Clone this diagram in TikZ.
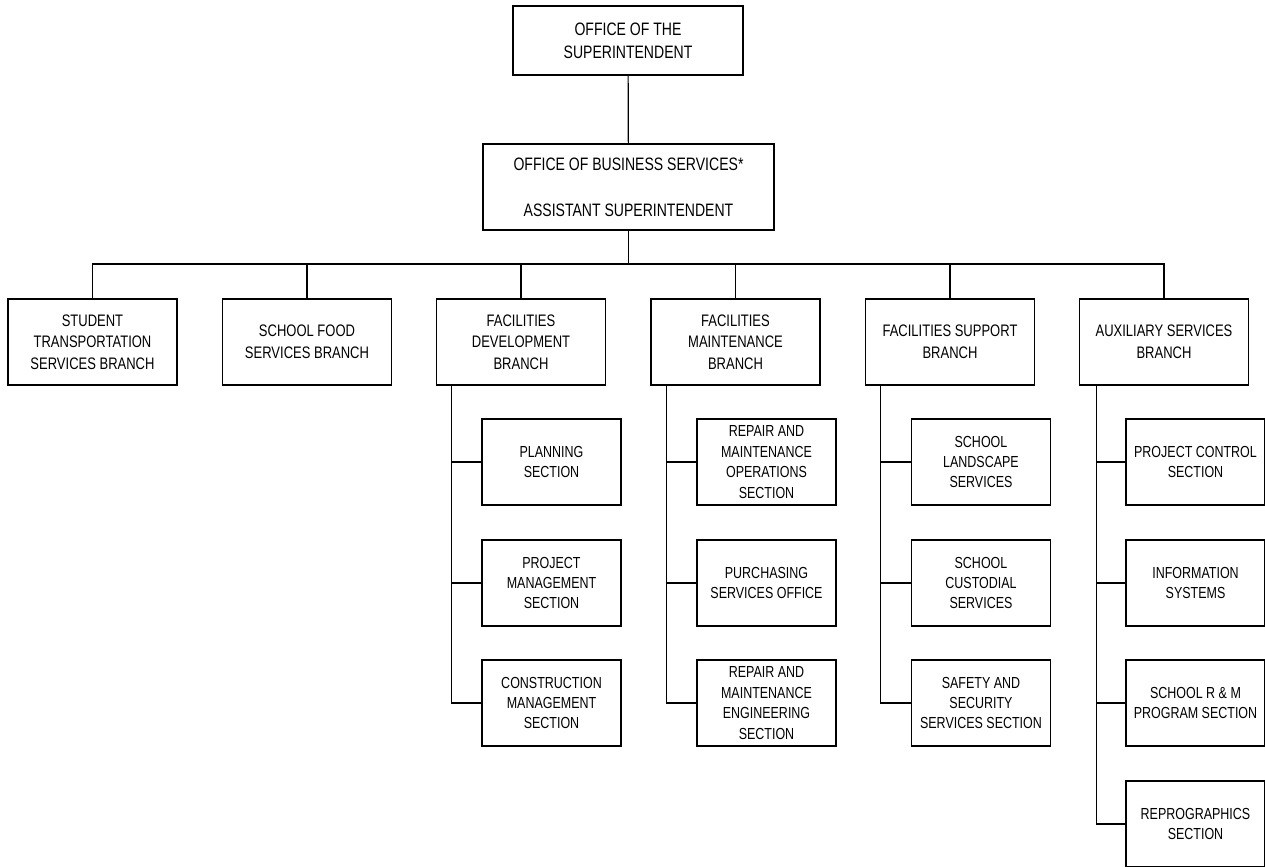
\documentclass[tikz,border=0pt]{standalone}
\usepackage{fontspec}
\setmainfont{Liberation Sans}[FakeStretch=0.78]

\begin{document}
\begin{tikzpicture}[x=0.75pt, y=-0.75pt, line width=0.9pt,
    box/.style = {draw, align = center, inner sep = 2pt},
    head/.style = {box, font = \fontsize{13.5}{17.3}\selectfont},
    branch/.style = {box, minimum width = 126.75pt, minimum height = 64.5pt, font = \fontsize{12.5}{16.3}\selectfont},
    sect/.style = {box, minimum width = 104.25pt, minimum height = 64.5pt, font = \fontsize{12}{15.3}\selectfont}]

    \useasboundingbox (0,0) rectangle (1265,867);

    \node[head, minimum width = 172.5pt, minimum height = 51.75pt] (sup) at (628,40.5) {OFFICE OF THE\\SUPERINTENDENT};
    \node[head, minimum width = 218.25pt, minimum height = 64.5pt] (obs) at (628.5,187) {OFFICE OF BUSINESS SERVICES*\\[17.3pt]ASSISTANT SUPERINTENDENT};

    \node[branch] (stu) at (92.5,342) {STUDENT\\TRANSPORTATION\\SERVICES BRANCH};
    \node[branch] (food) at (307,342) {SCHOOL FOOD\\SERVICES BRANCH};
    \node[branch] (dev) at (521,342) {FACILITIES\\DEVELOPMENT\\BRANCH};
    \node[branch] (mnt) at (735.5,342) {FACILITIES\\MAINTENANCE\\BRANCH};
    \node[branch] (fsup) at (950,342) {FACILITIES SUPPORT\\BRANCH};
    \node[branch] (aux) at (1164,342) {AUXILIARY SERVICES\\BRANCH};

    \node[sect] (plan) at (551.5,462) {PLANNING\\SECTION};
    \node[sect] (pm) at (551.5,583) {PROJECT\\MANAGEMENT\\SECTION};
    \node[sect] (cm) at (551.5,703) {CONSTRUCTION\\MANAGEMENT\\SECTION};

    \node[sect] (rmo) at (766.5,462) {REPAIR AND\\MAINTENANCE\\OPERATIONS\\SECTION};
    \node[sect] (pso) at (766.5,583) {PURCHASING\\SERVICES OFFICE};
    \node[sect] (rme) at (766.5,703) {REPAIR AND\\MAINTENANCE\\ENGINEERING\\SECTION};

    \node[sect] (land) at (981,462) {SCHOOL\\LANDSCAPE\\SERVICES};
    \node[sect] (cust) at (981,583) {SCHOOL\\CUSTODIAL\\SERVICES};
    \node[sect] (safe) at (981,703) {SAFETY AND\\SECURITY\\SERVICES SECTION};

    \node[sect] (pcs) at (1195.5,462) {PROJECT CONTROL\\SECTION};
    \node[sect] (info) at (1195.5,583) {INFORMATION\\SYSTEMS};
    \node[sect] (rmp) at (1195.5,703) {SCHOOL R \& M\\PROGRAM SECTION};
    \node[sect] (repro) at (1195.5,824) {REPROGRAPHICS\\SECTION};

    \coordinate (bus) at (628.5,264);
    \draw (sup) -- (obs);
    \draw (obs) -- (bus);
    \draw (stu.north) |- (bus) -| (aux.north);
    \foreach \b in {food,dev,mnt,fsup}
        \draw (\b.north) -- (\b.north |- bus);

    \coordinate (devl) at ([xshift=11.6pt]dev.south west);
    \coordinate (mntl) at ([xshift=12pt]mnt.south west);
    \coordinate (fsupl) at ([xshift=11.6pt]fsup.south west);
    \coordinate (auxl) at ([xshift=13pt]aux.south west);

    \draw (devl) |- (cm.west);
    \draw (mntl) |- (rme.west);
    \draw (fsupl) |- (safe.west);
    \draw (auxl) |- (repro.west);
    \foreach \s in {plan,pm} \draw (devl |- \s.west) -- (\s.west);
    \foreach \s in {rmo,pso} \draw (mntl |- \s.west) -- (\s.west);
    \foreach \s in {land,cust} \draw (fsupl |- \s.west) -- (\s.west);
    \foreach \s in {pcs,info,rmp} \draw (auxl |- \s.west) -- (\s.west);

\end{tikzpicture}
\end{document}
